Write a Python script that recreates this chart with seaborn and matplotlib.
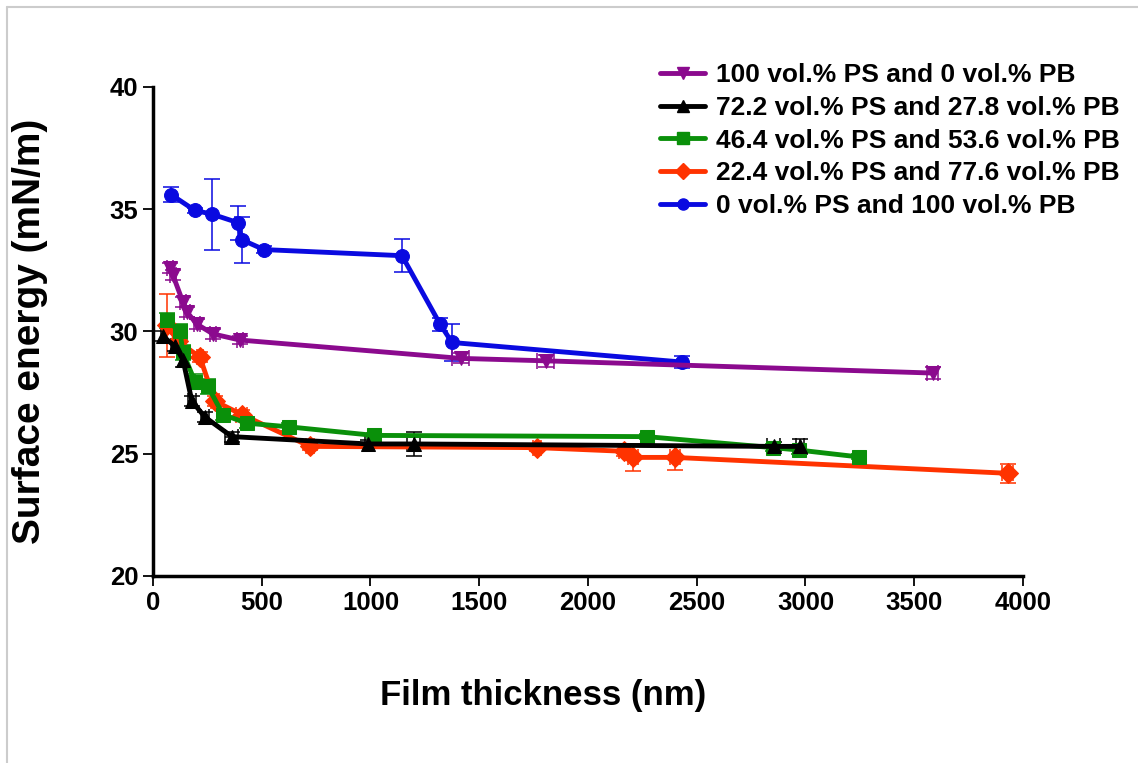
import numpy as np
import pandas as pd
import matplotlib
matplotlib.use("Agg")
import matplotlib.pyplot as plt
from matplotlib.lines import Line2D
import seaborn as sns

# Data: (thickness nm, surface energy mN/m, x err, y err)
ps100_x = [78, 92, 138, 156, 202, 276, 400, 1415, 1805, 3585]
ps100_y = [32.6, 32.3, 31.2, 30.8, 30.3, 29.9, 29.65, 28.9, 28.8, 28.3]
ps100_xerr = [15, 15, 15, 15, 15, 15, 15, 38, 40, 25]
ps100_yerr = [0.2, 0.2, 0.2, 0.2, 0.2, 0.2, 0.15, 0.2, 0.25, 0.25]

ps72_x = [46, 101, 138, 179, 239, 363, 990, 1200, 2855, 2975]
ps72_y = [29.8, 29.4, 28.85, 27.15, 26.5, 25.7, 25.4, 25.4, 25.3, 25.3]
ps72_xerr = [10, 20, 15, 20, 20, 30, 15, 30, 30, 20]
ps72_yerr = [0.2, 0.2, 0.3, 0.2, 0.2, 0.2, 0.15, 0.5, 0.2, 0.3]

ps46_x = [64, 124, 138, 193, 253, 322, 432, 625, 1016, 2270, 2850, 2970, 3245]
ps46_y = [30.45, 30.0, 29.15, 27.95, 27.75, 26.6, 26.25, 26.1, 25.75, 25.7, 25.25, 25.15, 24.87]
ps46_yerr = [0.3, 0.3, 0.3, 0.3, 0.3, 0.2, 0.2, 0.15, 0.1, 0.1, 0.15, 0.15, 0.1]

ps22_x = [64, 115, 216, 285, 409, 722, 1766, 2165, 2207, 2400, 3930]
ps22_y = [30.25, 29.6, 28.95, 27.15, 26.6, 25.3, 25.25, 25.1, 24.85, 24.85, 24.2]
ps22_xerr = [15, 15, 15, 20, 25, 20, 20, 20, 25, 25, 25]
ps22_yerr = [1.3, 0.3, 0.2, 0.2, 0.2, 0.15, 0.15, 0.2, 0.55, 0.5, 0.4]

ps0_x = [83, 193, 271, 391, 409, 510, 1145, 1320, 1375, 2432]
ps0_y = [35.6, 34.95, 34.8, 34.45, 33.75, 33.35, 33.1, 30.3, 29.55, 28.75]
ps0_yerr = [0.3, 0.1, 1.45, 0.7, 0.95, 0.15, 0.67, 0.27, 0.75, 0.25]

labels = ["100 vol.% PS and 0 vol.% PB",
          "72.2 vol.% PS and 27.8 vol.% PB",
          "46.4 vol.% PS and 53.6 vol.% PB",
          "22.4 vol.% PS and 77.6 vol.% PB",
          "0 vol.% PS and 100 vol.% PB"]
colors = ["#8B0A8E", "#000000", "#0A900A", "#FF3300", "#0A0AE0"]
markers = ["v", "^", "s", "D", "o"]

series = [
    (ps100_x, ps100_y, ps100_xerr, ps100_yerr),
    (ps72_x, ps72_y, ps72_xerr, ps72_yerr),
    (ps46_x, ps46_y, None, ps46_yerr),
    (ps22_x, ps22_y, ps22_xerr, ps22_yerr),
    (ps0_x, ps0_y, None, ps0_yerr),
]

sns.set_style("ticks")
plt.rcParams["font.family"] = ["Liberation Sans", "DejaVu Sans"]
plt.rcParams["font.weight"] = "bold"
plt.rcParams["text.color"] = "black"
plt.rcParams["axes.labelcolor"] = "black"
plt.rcParams["xtick.color"] = "black"
plt.rcParams["ytick.color"] = "black"
plt.rcParams["axes.edgecolor"] = "black"

fig = plt.figure(figsize=(11.38, 7.63), dpi=100)
ax = fig.add_axes([0.1344, 0.2451, 0.7645, 0.6409])

# draw in reverse so the first series ends up on top like the original
for i in reversed(range(len(series))):
    x, y, xerr, yerr = series[i]
    df = pd.DataFrame({"x": x, "y": y})
    ax.errorbar(x, y, xerr=xerr, yerr=yerr, fmt="none", ecolor=colors[i],
                elinewidth=1.3, capsize=6, capthick=1.3, alpha=0.85, zorder=2)
    sns.lineplot(data=df, x="x", y="y", ax=ax, color=colors[i], marker=markers[i],
                 markersize=10, markeredgecolor=colors[i], linewidth=3.5,
                 estimator=None, sort=False, label=labels[i], zorder=3)

ax.set_xlim(0, 4000)
ax.set_ylim(20, 40)
ax.set_xticks(np.arange(0, 4001, 500))
ax.set_yticks(np.arange(20, 41, 5))
sns.despine(ax=ax)
for s in ["left", "bottom"]:
    ax.spines[s].set_linewidth(2.5)
    ax.spines[s].set_color("black")
ax.tick_params(axis="both", labelsize=18.5, length=7, width=1.3, direction="out")
for t in ax.get_xticklabels() + ax.get_yticklabels():
    t.set_fontweight("bold")

ax.set_xlabel("Film thickness (nm)", fontsize=25, fontweight="bold")
ax.set_ylabel("Surface energy (mN/m)", fontsize=28, fontweight="bold")
ax.xaxis.set_label_coords(0.449, -0.21)
ax.yaxis.set_label_coords(-0.121, 0.50)

handles = [Line2D([], [], color=c, marker=m, markersize=8, linewidth=3.5)
           for c, m in zip(colors, markers)]
ax.legend(handles, labels, loc="upper left", bbox_to_anchor=(0.571, 0.931),
          bbox_transform=fig.transFigure, frameon=False,
          prop={"weight": "bold", "size": 19}, handlelength=1.7,
          labelspacing=0.33, handletextpad=0.4, borderaxespad=0)

# thin grey frame lines at the top and left of the original picture
fig.add_artist(Line2D([7 / 1138, 7 / 1138], [0, 1 - 7 / 763], color="#cccccc",
                      linewidth=1.5, transform=fig.transFigure))
fig.add_artist(Line2D([7 / 1138, 1], [1 - 7 / 763, 1 - 7 / 763], color="#cccccc",
                      linewidth=1.5, transform=fig.transFigure))

fig.savefig("out.png", dpi=100)
